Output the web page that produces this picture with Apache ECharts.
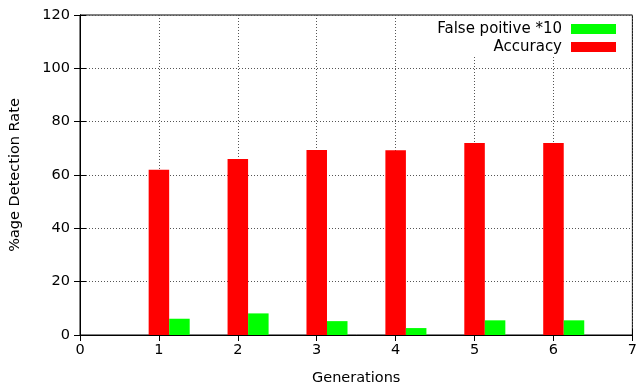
<!DOCTYPE html>
<html>
<head>
<meta charset="utf-8">
<script src="https://cdn.jsdelivr.net/npm/echarts@6/dist/echarts.min.js"></script>
<style>
  html, body { margin: 0; padding: 0; background: #fff; }
  #chart { width: 640px; height: 391px; }
</style>
</head>
<body>
<div id="chart"></div>
<script>
// Generations on the x axis, detection rates on the y axis
const generations = [1, 2, 3, 4, 5, 6];
const accuracy = [62.0, 66.0, 69.4, 69.3, 72.0, 72.0];
const falsePositiveX10 = [6.1, 8.1, 5.2, 2.6, 5.5, 5.5];
const yTicks = [0, 20, 40, 60, 80, 100, 120];

const FONT = 'DejaVu Sans';
const BAR_W = 0.26; // bar width in x-axis units

function barRenderer(leftOffset) {
  return function (params, api) {
    const x = api.value(0);
    const y = api.value(1);
    const p0 = api.coord([x + leftOffset, 0]);
    const p1 = api.coord([x + leftOffset + BAR_W, y]);
    return {
      type: 'rect',
      shape: { x: p0[0], y: p1[1], width: p1[0] - p0[0], height: p0[1] - p1[1] },
      style: api.style()
    };
  };
}

const chart = echarts.init(document.getElementById('chart'), null, { renderer: 'canvas' });

const dotted = { color: '#555', width: 1, type: [1, 2] };
const axisText = { color: '#000', fontFamily: FONT, fontSize: 14.5 };

chart.setOption({
  animation: false,
  backgroundColor: '#fff',
  grid: { left: 79, right: 7, top: 15, bottom: 54, show: true, borderColor: '#000', borderWidth: 1, backgroundColor: 'transparent' },
  legend: {
    data: ['False poitive *10', 'Accuracy'],
    orient: 'vertical',
    right: 9,
    top: 16,
    align: 'right',
    icon: 'rect',
    itemWidth: 45,
    itemHeight: 10,
    itemGap: 3,
    padding: [5.5, 15, 2.5, 30],
    backgroundColor: '#fff',
    textStyle: { color: '#000', fontFamily: FONT, fontSize: 15, lineHeight: 15, padding: [0, 4, 0, 0] }
  },
  xAxis: [
    {
      type: 'value', min: 0, max: 7, interval: 1, position: 'bottom',
      name: 'Generations', nameLocation: 'middle', nameGap: 36,
      nameTextStyle: axisText,
      axisLine: { show: true, lineStyle: { color: '#000', width: 1 } },
      axisTick: { show: true, inside: true, length: 6, lineStyle: { color: '#000' } },
      axisLabel: Object.assign({ margin: 8 }, axisText),
      splitLine: { show: true, lineStyle: dotted }
    },
    {
      type: 'value', min: 0, max: 7, interval: 1, position: 'top',
      axisLine: { show: true, lineStyle: { color: '#000', width: 1 } },
      axisTick: { show: true, inside: true, length: 6, lineStyle: { color: '#000' } },
      axisLabel: { show: false },
      splitLine: { show: false }
    }
  ],
  yAxis: [
    {
      type: 'value', min: yTicks[0], max: yTicks[yTicks.length - 1], interval: 20, position: 'left',
      name: '%age Detection Rate', nameLocation: 'middle', nameGap: 57, nameRotate: 90,
      nameTextStyle: axisText,
      axisLine: { show: true, lineStyle: { color: '#000', width: 1 } },
      axisTick: { show: true, inside: true, length: 6, lineStyle: { color: '#000' } },
      axisLabel: Object.assign({ margin: 10 }, axisText),
      splitLine: { show: true, lineStyle: dotted }
    },
    {
      type: 'value', min: yTicks[0], max: yTicks[yTicks.length - 1], interval: 20, position: 'right',
      axisLine: { show: true, lineStyle: { color: '#000', width: 1 } },
      axisTick: { show: true, inside: true, length: 6, lineStyle: { color: '#000' } },
      axisLabel: { show: false },
      splitLine: { show: false }
    }
  ],
  series: [
    {
      name: 'Accuracy',
      type: 'custom',
      xAxisIndex: 0, yAxisIndex: 0,
      itemStyle: { color: '#ff0000' },
      renderItem: barRenderer(-BAR_W / 2),
      encode: { x: 0, y: 1 },
      data: generations.map((g, i) => [g, accuracy[i]]),
      z: 1
    },
    {
      name: 'False poitive *10',
      type: 'custom',
      xAxisIndex: 0, yAxisIndex: 0,
      itemStyle: { color: '#00ff00' },
      renderItem: barRenderer(BAR_W / 2),
      encode: { x: 0, y: 1 },
      data: generations.map((g, i) => [g, falsePositiveX10[i]]),
      z: 1
    }
  ]
});
</script>
</body>
</html>
